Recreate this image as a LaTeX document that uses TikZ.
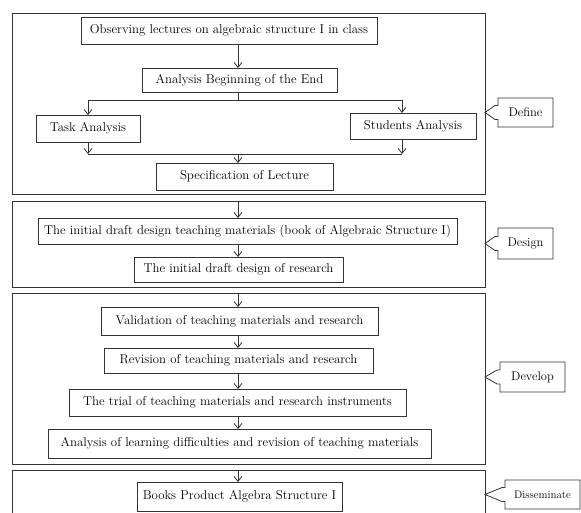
\documentclass[tikz,border=0pt]{standalone}
\usetikzlibrary{arrows.meta,positioning}
\begin{document}
\begin{tikzpicture}[x=1pt, y=-1pt,
  link/.style = {draw=black!80, line width=0.8pt},
  arr/.style = {link, -{Straight Barb[length=5pt,width=8pt]}},
  frame/.style = {link, outer sep=0pt, inner sep=0pt},
  stage/.style = {frame, font=\fontsize{12.8}{14}\selectfont},
  tag/.style = {inner sep=0pt, outer sep=0pt, font=\fontsize{12.5}{14}\selectfont}]
  \useasboundingbox (0,0) rectangle (581,512);
  \node[frame, minimum width=473pt, minimum height=181pt] (define) at (248.5,103.5) {};
  \node[frame, minimum width=473pt, minimum height=86pt] (design) at (248.5,244) {};
  \node[frame, minimum width=473pt, minimum height=171pt] (develop) at (248.5,378.5) {};
  \node[frame, minimum width=473pt, minimum height=60pt] (dissem) at (248.5,500) {};
  \node[stage, minimum width=296pt, minimum height=27pt] (obs) at (229,30.5) {Observing lectures on algebraic structure I in class};
  \node[stage, minimum width=195pt, minimum height=24pt] (abe) at (239.5,80) {Analysis Beginning of the End};
  \node[stage, minimum width=104pt, minimum height=27pt] (task) at (88,128.5) {Task Analysis};
  \node[stage, minimum width=126pt, minimum height=26pt] (stud) at (413,126) {Students Analysis};
  \node[stage, minimum width=177pt, minimum height=27pt] (spec) at (244.5,176.5) {Specification of Lecture};
  \node[stage, minimum width=419pt, minimum height=26pt] (d1) at (247.5,231) {The initial draft design teaching materials (book of Algebraic Structure I)};
  \node[stage, minimum width=209pt, minimum height=25pt] (d2) at (238.5,269.5) {The initial draft design of research};
  \node[stage, minimum width=277pt, minimum height=28pt] (v1) at (239.5,321) {Validation of teaching materials and research};
  \node[stage, minimum width=269pt, minimum height=25pt] (v2) at (238.5,360.5) {Revision of teaching materials and research};
  \node[stage, minimum width=337pt, minimum height=27pt] (v3) at (237.5,402.5) {The trial of teaching materials and research instruments};
  \node[stage, minimum width=383pt, minimum height=29pt] (v4) at (239.5,443.5) {Analysis of learning difficulties and revision of teaching materials};
  \node[stage, minimum width=205pt, minimum height=29pt] (b1) at (239.5,496.5) {Books Product Algebra Structure I};
  \node[tag, minimum width=55pt, minimum height=29pt] (tdef) at (525.5,112.5) {Define};
  \node[tag, minimum width=55pt, minimum height=31pt] (tdes) at (525.5,243.5) {Design};
  \node[tag, minimum width=65pt, minimum height=30pt] (tdev) at (532.5,377) {Develop};
  \node[tag, minimum width=75pt, minimum height=29pt, font=\fontsize{11}{13}\selectfont] (tdis) at (542.5,494.5) {Disseminate};
  \coordinate (spine) at (238,0);
  \coordinate (fork) at (238,100);
  \coordinate (join) at (238,154);
  \draw[arr] (spine |- obs.south) -- (spine |- abe.north);
  \draw[link] (spine |- abe.south) -- (fork);
  \draw[arr] (fork) -| (task.north);
  \draw[arr] (fork) -| ([xshift=-11pt]stud.north);
  \draw[arr] (task.south) -- (task.south |- join);
  \draw[arr] ([xshift=-11pt]stud.south) -- ([xshift=-11pt]stud.south |- join);
  \draw[link] (task.south |- join) -- ([xshift=-11pt]stud.south |- join);
  \draw[arr] (join) -- (join |- spec.north);
  \draw[arr] (spine |- design.north) -- (spine |- d1.north);
  \draw[arr] (spine |- d1.south) -- (spine |- d2.north);
  \draw[arr] (spine |- develop.north) -- (spine |- v1.north);
  \foreach \a/\b in {v1/v2, v2/v3, v3/v4}
    \draw[arr] (spine |- \a.south) -- (spine |- \b.north);
  \draw[arr] (spine |- dissem.north) -- (spine |- b1.north);
  \foreach \t/\f in {tdef/define, tdes/design, tdev/develop, tdis/dissem}
    \draw[link] ([yshift=7pt]\t.west) -- (\t.north west) -- (\t.north east) -- (\t.south east)
      -- (\t.south west) -- ([yshift=-7pt]\t.west) -- ([xshift=-3pt,yshift=-7pt]\t.west)
      -- (\t.west -| \f.east) -- ([xshift=-3pt,yshift=7pt]\t.west) -- cycle;
\end{tikzpicture}
\end{document}
